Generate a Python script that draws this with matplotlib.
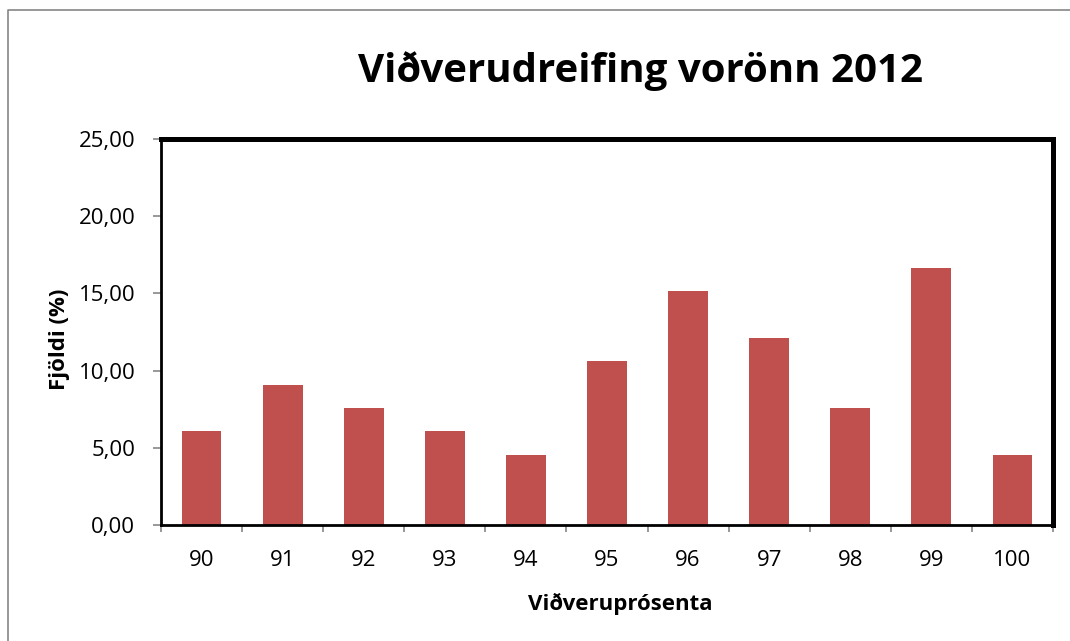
import matplotlib.pyplot as plt
import numpy as np
from matplotlib.lines import Line2D

# Viðveruprósenta og fjöldi (%)
categories = ['90', '91', '92', '93', '94', '95', '96', '97', '98', '99', '100']
values = [6.06, 9.09, 7.58, 6.06, 4.55, 10.61, 15.15, 12.12, 7.58, 16.67, 4.55]
yticks = [0, 5, 10, 15, 20, 25]

plt.rcParams['font.family'] = ['Open Sans', 'DejaVu Sans']

W, H = 1070, 641
fig = plt.figure(figsize=(W / 100, H / 100), dpi=100)

# gray outer chart border (only left and top edges are in view)
fig.add_artist(Line2D([8 / W, 8 / W, 1.0], [0.0, 1 - 10 / H, 1 - 10 / H],
                      transform=fig.transFigure, color='#868686',
                      linewidth=1.2))

ax = fig.add_axes([161 / W, 1 - 525 / H, 892 / W, 386 / H])

x = np.arange(len(categories))
ax.bar(x, values, width=0.49, color='#C0504D', zorder=2)

ax.set_xlim(-0.5, len(categories) - 0.5)
ax.set_ylim(0, 25)

ax.set_xticks(x)
ax.set_xticklabels(categories)
ax.set_xticks(np.arange(-0.5, len(categories)), minor=True)
ax.tick_params(axis='x', which='major', length=0, pad=18, labelsize=16)
ax.tick_params(axis='x', which='minor', length=5, width=1.2, color='#868686',
               direction='out')

ax.set_yticks(yticks)
ax.set_yticklabels([f'{v:.2f}'.replace('.', ',') for v in yticks])
ax.tick_params(axis='y', length=6, width=1.2, color='#868686', pad=12.5,
               labelsize=16)

for side in ['top', 'right']:
    ax.spines[side].set_linewidth(3.6)
for side in ['left', 'bottom']:
    ax.spines[side].set_linewidth(2)
for sp in ax.spines.values():
    sp.set_color('black')

fig.text(620 / W, 1 - 604 / H, 'Viðveruprósenta', fontsize=16,
         fontweight='bold', ha='center', va='center')
fig.text(59 / W, 1 - 339 / H, 'Fjöldi (%)', fontsize=16, fontweight='bold',
         ha='center', va='center', rotation=90)

fig.text(640 / W, 1 - 82 / H, 'Viðverudreifing vorönn 2012',
         fontsize=29, fontweight='bold', ha='center', va='baseline')

fig.savefig('out.png', dpi=100)
